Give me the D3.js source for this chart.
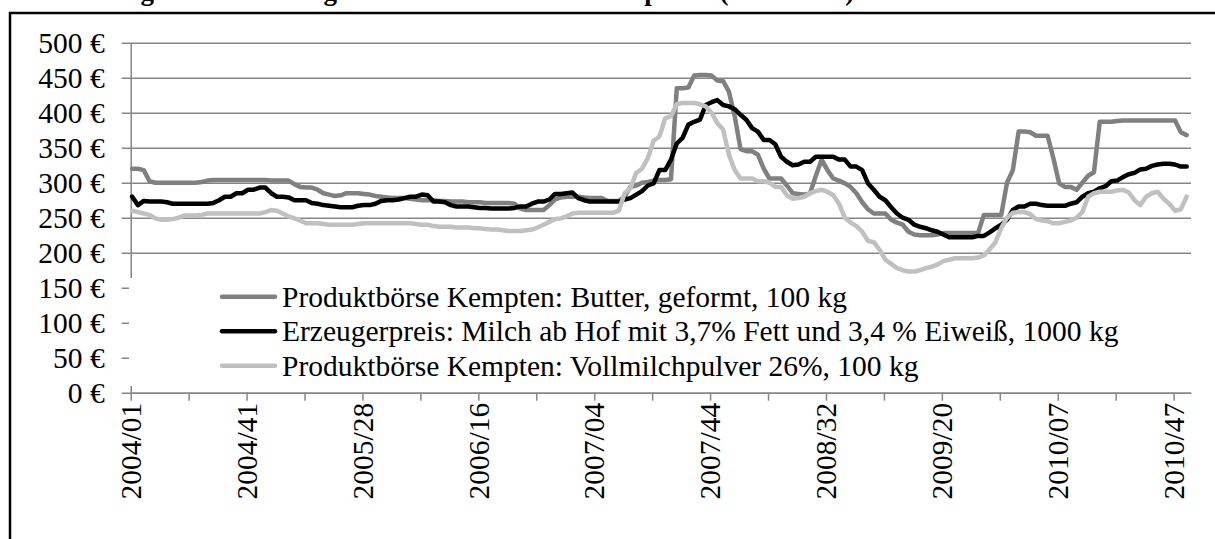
<!DOCTYPE html>
<html>
<head>
<meta charset="utf-8">
<script src="https://cdn.jsdelivr.net/npm/d3@7/dist/d3.min.js"></script>
<style>
  body { margin: 0; background: #fff; }
</style>
</head>
<body>
<div id="chart"></div>
<script>
// weekly categories 2004/01 .. 2010/52
var years = [2004, 2005, 2006, 2007, 2008, 2009, 2010];
var weeksInYear = [53, 52, 52, 52, 52, 53, 52];
var tickLabels = ["2004/01", "2004/41", "2005/28", "2006/16", "2007/04", "2007/44", "2008/32", "2009/20", "2010/07", "2010/47"];
var yTicks = [0, 50, 100, 150, 200, 250, 300, 350, 400, 450, 500];

var seriesNames = [
  "Produktbörse Kempten: Butter, geformt, 100 kg",
  "Erzeugerpreis: Milch ab Hof mit 3,7% Fett und 3,4 % Eiweiß, 1000 kg",
  "Produktbörse Kempten: Vollmilchpulver 26%, 100 kg"
];
var seriesColors = ["#808080", "#000000", "#c0c0c0"];

// values read every 2nd week (week index 0, 2, 4 ... 364)
var sampleStep = 2;
var butter = [320,320,318,302,300,300,300,300,300,300,300,300,301,303,304,304,304,304,304,304,
  304,304,304,304,303,303,303,303,298,294,293,293,290,285,283,281,282,285,285,285,
  284,283,281,280,279,278,278,278,277,276,275,275,275,274,274,273,273,273,272,272,
  272,271,271,271,271,271,270,263,261,261,261,261,268,276,279,280,280,280,279,278,
  278,278,274,274,274,280,294,296,300,301,303,304,304,305,435,435,436,453,454,454,
  453,446,445,430,395,348,345,345,340,320,306,306,306,296,285,284,283,285,310,333,
  318,306,303,299,294,285,272,262,256,256,256,247,243,240,230,226,225,225,225,226,
  228,228,228,228,228,228,228,254,254,254,254,300,318,373,373,372,367,367,367,335,
  299,294,294,290,300,310,315,387,387,387,388,389,389,389,389,389,389,389,389,389,
  389,372,368];
var milk = [280,268,274,273,273,273,272,270,270,270,270,270,270,270,271,275,280,280,285,285,
  290,290,293,293,285,280,280,279,275,275,275,271,270,268,267,266,265,265,265,267,
  268,268,270,274,275,275,276,278,280,280,283,282,273,273,272,268,266,266,266,265,
  264,264,263,263,263,263,264,266,266,270,273,273,276,284,284,285,286,278,275,273,
  273,273,273,273,273,276,278,283,288,296,299,318,318,333,356,364,383,387,390,411,
  415,418,411,409,405,397,390,378,373,361,361,355,337,330,325,326,330,330,337,337,
  337,337,333,333,323,323,318,299,290,280,275,265,256,250,247,240,237,235,232,230,
  226,222,222,222,222,222,224,224,229,235,240,247,261,266,266,270,270,268,267,267,
  267,267,270,272,280,285,287,292,295,302,303,308,312,314,319,320,324,326,327,327,
  326,323,323];
var powder = [260,258,256,254,249,247,247,248,250,253,253,253,254,256,256,256,256,256,256,256,
  256,256,256,258,261,260,256,252,249,246,242,242,242,241,240,240,240,240,240,241,
  242,242,242,242,242,242,242,242,242,241,240,240,238,237,237,237,236,236,236,235,
  235,234,233,233,232,231,231,231,232,233,236,240,244,248,249,252,256,257,257,257,
  257,257,257,257,260,285,292,314,320,335,360,366,392,395,412,414,414,414,412,409,
  400,385,376,340,318,306,306,306,302,302,300,294,294,282,277,278,280,285,288,290,
  287,282,270,250,243,238,230,217,215,204,190,184,178,175,173,173,175,178,180,183,
  188,190,192,192,192,192,193,196,205,215,235,250,257,258,258,255,248,246,245,242,
  242,244,246,250,258,280,285,287,287,287,289,290,286,275,268,280,285,287,277,270,
  260,262,280];
var seriesData = [butter, milk, powder];

var categories = [];
years.forEach(function(yr, k) {
  for (var w = 1; w <= weeksInYear[k]; w++) categories.push(yr + "/" + (w < 10 ? "0" + w : w));
});

var width = 1215, height = 539;
var plotLeft = 130.7, plotRight = 1191, plotTop = 42.7, plotBottom = 392.7;
var font = "'Liberation Serif', 'Times New Roman', serif";
var fontSize = "29.5px";

var svg = d3.select("#chart").append("svg")
  .attr("width", width)
  .attr("height", height);

// caption above the frame, cut off at the top edge (only descenders show)
svg.append("text")
  .attr("x", 31).attr("y", 0)
  .style("font-family", font).style("font-size", "27px").style("font-weight", "bold")
  .text("Abbildung 1: Entwicklung der Rohmilch- und Butterpreise (2004-2010)");

// chart frame
svg.append("rect")
  .attr("x", 10).attr("y", 13)
  .attr("width", 1300).attr("height", 700)
  .attr("fill", "none").attr("stroke", "#000").attr("stroke-width", 2.5);

var x = d3.scaleLinear().domain([0, categories.length]).range([plotLeft, plotRight]);
var y = d3.scaleLinear().domain([0, 500]).range([plotBottom, plotTop]);

// gridlines with outside tick marks
var grid = svg.append("g")
  .attr("transform", "translate(" + (plotLeft - 9) + ",0)")
  .call(d3.axisLeft(y).tickValues(yTicks).tickSize(-(plotRight - plotLeft + 9)).tickFormat(""));
grid.select(".domain").remove();
grid.selectAll(".tick line").attr("stroke", "#868686").attr("stroke-width", 1.5);

// y labels
var yAxis = svg.append("g")
  .attr("transform", "translate(" + plotLeft + ",0)")
  .call(d3.axisLeft(y).tickValues(yTicks).tickSize(0).tickPadding(26)
    .tickFormat(function(d) { return d + " €"; }));
yAxis.select(".domain").attr("stroke", "#868686").attr("stroke-width", 1.5);
yAxis.selectAll("text")
  .style("font-family", font).style("font-size", fontSize)
  .attr("dy", "0.34em");

// x axis
var tickIdx = d3.range(0, categories.length, 20);
var xAxis = svg.append("g")
  .attr("transform", "translate(0," + plotBottom + ")")
  .call(d3.axisBottom(x).tickValues(tickIdx).tickSize(8).tickSizeOuter(0)
    .tickFormat(function(i) { return tickLabels.indexOf(categories[i]) >= 0 ? categories[i] : ""; }));
xAxis.select(".domain").attr("stroke", "#868686").attr("stroke-width", 1.5);
xAxis.selectAll(".tick line").attr("stroke", "#868686").attr("stroke-width", 1.5);
xAxis.selectAll("text")
  .style("font-family", font).style("font-size", fontSize)
  .attr("text-anchor", "end")
  .attr("transform", "rotate(-90)")
  .attr("x", -10).attr("y", 0).attr("dy", "0.33em");

// series
var line = d3.line()
  .x(function(d, k) { return x(k * sampleStep + 0.5); })
  .y(function(d) { return y(d); });

svg.selectAll(".series")
  .data(seriesData)
  .enter().append("path")
  .attr("class", "series")
  .attr("d", line)
  .attr("fill", "none")
  .attr("stroke", function(d, i) { return seriesColors[i]; })
  .attr("stroke-width", 4.5)
  .attr("stroke-linejoin", "round")
  .attr("stroke-linecap", "round");

// legend: white box over the lower plot area
svg.append("rect")
  .attr("x", 129).attr("y", 278)
  .attr("width", 1066).attr("height", 108)
  .attr("fill", "#fff");

var legend = svg.selectAll(".legend")
  .data(seriesNames)
  .enter().append("g")
  .attr("class", "legend")
  .attr("transform", function(d, i) { return "translate(222," + (296.7 + i * 34.5) + ")"; });

legend.append("line")
  .attr("x1", 0).attr("x2", 53)
  .attr("stroke", function(d, i) { return seriesColors[i]; })
  .attr("stroke-width", 4.5)
  .attr("stroke-linecap", "round");

legend.append("text")
  .attr("x", 60).attr("dy", "0.34em")
  .style("font-family", font).style("font-size", fontSize)
  .text(function(d) { return d; });
</script>
</body>
</html>
